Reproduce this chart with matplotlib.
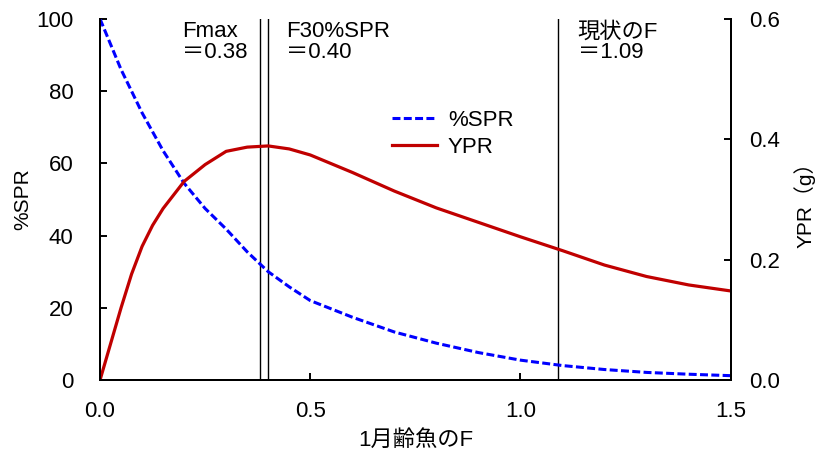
import matplotlib.pyplot as plt

plt.rcParams['font.family'] = ['Liberation Sans', 'Noto Sans CJK JP']
plt.rcParams['font.size'] = 16

# fishing mortality of age-1 fish
f_spr = [0, 0.05, 0.1, 0.15, 0.2, 0.25, 0.3, 0.35, 0.4, 0.45, 0.5,
         0.6, 0.7, 0.8, 0.9, 1.0, 1.1, 1.2, 1.3, 1.4, 1.5]
spr = [100, 86, 74, 63.5, 54.5, 47.5, 41.8, 35.5, 30, 25.8, 22,
       17.4, 13.3, 10.2, 7.6, 5.5, 4.0, 2.9, 2.1, 1.6, 1.2]

f_ypr = [0, 0.025, 0.05, 0.075, 0.1, 0.125, 0.15, 0.2, 0.25, 0.3, 0.35, 0.4,
         0.45, 0.5, 0.6, 0.7, 0.8, 0.9, 1.0, 1.1, 1.2, 1.3, 1.4, 1.5]
ypr = [0, 0.06, 0.12, 0.176, 0.222, 0.257, 0.285, 0.33, 0.358, 0.38, 0.387,
       0.389, 0.384, 0.374, 0.345, 0.314, 0.286, 0.262, 0.238, 0.215, 0.191,
       0.172, 0.158, 0.148]

ref_f = [0.38, 0.40, 1.09]
ref_labels = ['Fmax\n＝0.38', 'F30%SPR\n＝0.40', '現状のF\n＝1.09']
ref_text_x = [0.195, 0.442, 1.136]

fig = plt.figure(figsize=(8.2, 4.57), dpi=100)
ax = fig.add_axes([0.122, 0.1685, 0.769, 0.79])
ax2 = ax.twinx()

for f in ref_f:
    ax.axvline(f, color='black', lw=1.0)
for x, s in zip(ref_text_x, ref_labels):
    ax.text(x, 0.993, s, transform=ax.get_xaxis_transform(), ha='left', va='top',
            linespacing=0.95)

l1, = ax.plot(f_spr, spr, color='#0000FF', lw=2.2, dashes=(2.6, 1.1), label='%SPR')
l2, = ax2.plot(f_ypr, ypr, color='#C00000', lw=2.3, label='YPR')

ax.set_xlim(0, 1.5)
ax.set_ylim(0, 100)
ax2.set_ylim(0, 0.6)
ax.set_xticks([0, 0.5, 1.0, 1.5])
ax.set_xticklabels(['0.0', '0.5', '1.0', '1.5'])
ax.set_yticks([0, 20, 40, 60, 80, 100])
ax2.set_yticks([0, 0.2, 0.4, 0.6])
ax2.set_yticklabels(['0.0', '0.2', '0.4', '0.6'])

for a in (ax, ax2):
    a.spines['top'].set_visible(False)
    for sp in a.spines.values():
        sp.set_linewidth(1.4)
ax.tick_params(axis='x', direction='in', length=5, width=1.4, pad=15)
ax.tick_params(axis='y', direction='in', length=5, width=1.4, pad=19)
ax2.tick_params(axis='y', direction='in', length=5, width=1.4, pad=13)

ax.set_xlabel('1月齢魚のF', labelpad=6)
ax.set_ylabel('%SPR', fontsize=15, labelpad=3)
ax2.set_ylabel('YPR（g）', fontsize=15, labelpad=10)

ax2.legend([l1, l2], ['%SPR', 'YPR'], loc='upper left', bbox_to_anchor=(0.446, 0.78),
           frameon=False, borderpad=0, handlelength=2.0, handletextpad=0.5,
           labelspacing=0.3)

fig.savefig('out.png', dpi=100)
